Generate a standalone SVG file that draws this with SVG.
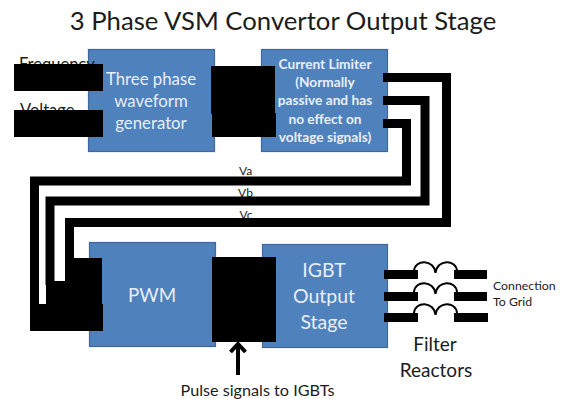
<svg xmlns="http://www.w3.org/2000/svg" width="561" height="399" viewBox="0 0 561 399">
<style>
text{font-family:Lato,"Liberation Sans",sans-serif;text-anchor:middle}
.box{fill:#4f81bd;stroke:#41689a;stroke-width:1.2}
.w{fill:#e9eff8}
.b{fill:#000}
.wire{fill:none;stroke:#000;stroke-width:9;stroke-linejoin:miter}
.coil{fill:none;stroke:#000;stroke-width:2}
.k{fill:#1c1c1c}
.s{text-anchor:start}
</style>
<rect width="561" height="399" fill="#fff"/>
<text id="title" x="283" y="30" font-size="25.700" class="k">3 Phase VSM Convertor Output Stage</text>
<g id="waveform-generator"><rect class="box" x="88.500" y="49.500" width="126" height="102"/>
<text class="w" x="151" y="85" font-size="16.800">Three phase</text><text class="w" x="151" y="107" font-size="16.800">waveform</text><text class="w" x="151" y="129" font-size="16.800">generator</text></g>
<g id="current-limiter"><rect class="box" x="261.500" y="49.500" width="126" height="102"/>
<g font-size="13.700" font-weight="700"><text class="w" x="325" y="69">Current Limiter</text><text class="w" x="325" y="87">(Normally</text><text class="w" x="325" y="105">passive and has</text><text class="w" x="325" y="124">no effect on</text><text class="w" x="325" y="142">voltage signals)</text></g></g>
<g id="pwm"><rect class="box" x="89.500" y="242.500" width="126" height="104"/><text class="w" x="152" y="302" font-size="18.800">PWM</text></g>
<g id="igbt"><rect class="box" x="262.500" y="244.500" width="125" height="103"/>
<g font-size="19.500"><text class="w" x="324" y="277">IGBT</text><text class="w" x="324" y="303">Output</text><text class="w" x="324" y="329">Stage</text></g></g>
<g id="frequency-label"><text x="19" y="70" font-size="16.500" class="k s">Frequency</text></g>
<g id="voltage-label"><text x="20" y="116" font-size="16.500" class="k s">Voltage</text></g>
<g id="signal-labels" font-size="12" class="k"><text x="245.500" y="175" class="k">Va</text><text x="245.500" y="197" class="k">Vb</text><text x="246" y="219" class="k">Vc</text></g>
<g id="connectors">
<rect class="b" x="14" y="64" width="89" height="27"/>
<rect class="b" x="14" y="110" width="89" height="27"/>
<rect class="b" x="211" y="66" width="64" height="48"/>
<rect class="b" x="212" y="113" width="64" height="24"/>
<path class="wire" d="M383 77.500H446.500V222.500H69.500V285"/>
<path class="wire" d="M383 100.500H425V201H50V285"/>
<path class="wire" d="M383 123.500H406.500V181H34.500V310"/>
<path class="b" d="M73 258H102V304H103V331H30V304H46V281H73Z"/>
<rect class="b" x="212" y="257" width="64" height="85"/>
<path d="M238 375V345" fill="none" stroke="#000" stroke-width="4"/>
<path d="M230.500 352L238 344L245.500 352" fill="none" stroke="#000" stroke-width="4"/>
<g id="reactor-1"><path class="b" d="M384 270H418V279H384ZM454 270H487V279H454Z"/><path class="coil" d="M414 271C415 259 434 259 435.500 273C437 259 456 259 457 271"/></g>
<g id="reactor-2"><path class="b" d="M384 292H418V301H384ZM454 292H487V301H454Z"/><path class="coil" d="M414 292C415 280 434 280 435.500 294C437 280 456 280 457 292"/></g>
<g id="reactor-3"><path class="b" d="M384 313H418V322H384ZM454 313H488V322H454Z"/><path class="coil" d="M414 313C415 301 434 301 435.500 315C437 301 456 301 457 313"/></g>
</g>
<g id="grid-label" font-size="12.300" class="k"><text x="493" y="290" class="k s">Connection</text><text x="493" y="306" class="k s">To Grid</text></g>
<g id="filter-label" font-size="19" class="k"><text x="435" y="351" class="k">Filter</text><text x="436" y="377" class="k">Reactors</text></g>
<text id="pulse-label" x="257.500" y="396" font-size="16.200" class="k">Pulse signals to IGBTs</text>
</svg>
